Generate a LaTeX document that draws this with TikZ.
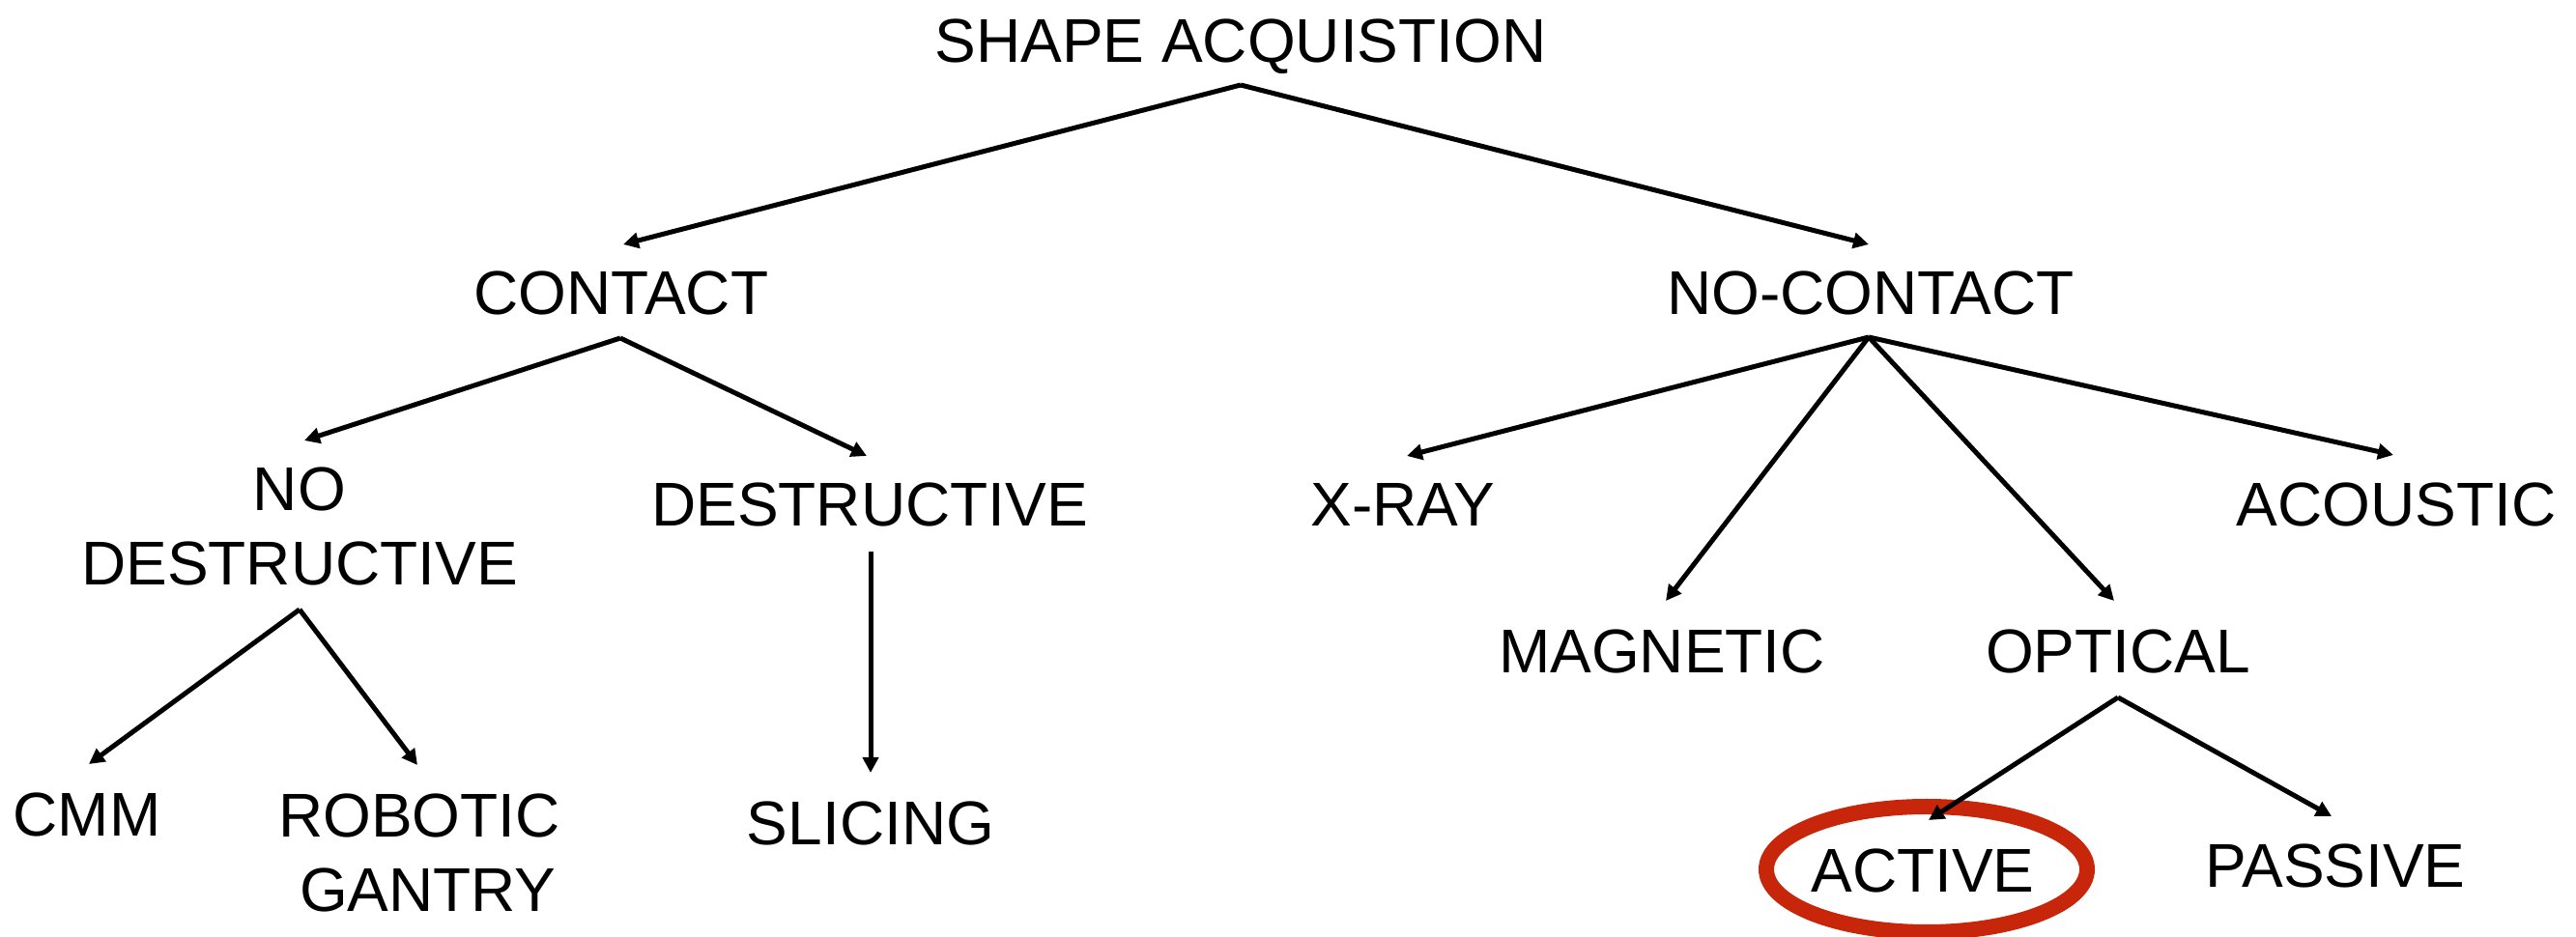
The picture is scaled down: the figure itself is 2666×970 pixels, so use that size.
\documentclass[tikz,border=0pt]{standalone}
\usepackage{fontspec}
\setmainfont{Liberation Sans}
\usetikzlibrary{arrows.meta}
\definecolor{hlred}{RGB}{200,38,10}
\tikzset{
  lbl/.style={anchor=base, inner sep=0pt, align=center, font=\fontsize{16}{19.3}\selectfont},
  arr/.style={draw=black, line width=1.25pt, -{Triangle[length=4pt,width=4pt]}},
  hl/.style={draw=hlred, line width=4pt}
}
\begin{document}
\begin{tikzpicture}[x=0.25pt,y=-0.25pt]
\useasboundingbox (0,0) rectangle (2666,970);
% labels
\node[lbl] (root) at (1284,65) {SHAPE ACQUISTION};
\node[lbl] (contact) at (643,326) {CONTACT};
\node[lbl] (nocontact) at (1936,326) {NO-CONTACT};
\node[lbl] (nodestr) at (310,606) {NO\\DESTRUCTIVE};
\node[lbl] (destr) at (900,545) {DESTRUCTIVE};
\node[lbl] (xray) at (1452,545) {X-RAY};
\node[lbl] (acoustic) at (2480,545) {ACOUSTIC};
\node[lbl] (magnetic) at (1720,697) {MAGNETIC};
\node[lbl] (optical) at (2192,697) {OPTICAL};
\node[lbl] (cmm) at (90,866) {CMM};
\node[lbl] (robotic) at (434,944) {ROBOTIC\\\mbox{ }GANTRY};
\node[lbl] (slicing) at (901,875) {SLICING};
\node[lbl] (active) at (1990,924) {ACTIVE};
\node[lbl] (passive) at (2417,919) {PASSIVE};
% highlight ring around ACTIVE
\coordinate (ringC) at (1994,900);
\draw[hl] (ringC) ellipse [x radius=166, y radius=65];
% connector end points
\coordinate (rootA) at (1284,88);
\coordinate (contactT) at (645,253);
\coordinate (nocontactT) at (1934,253);
\coordinate (contactA) at (642,350);
\coordinate (nodestrT) at (315,456);
\coordinate (destrT) at (897,472);
\coordinate (nodestrA) at (310,631);
\coordinate (cmmT) at (92,791);
\coordinate (roboticT) at (432,792);
\coordinate (destrA) at (901,571);
\coordinate (slicingT) at (901,800);
\coordinate (nocontactA) at (1934,349);
\coordinate (xrayT) at (1456,472);
\coordinate (magneticT) at (1724,622);
\coordinate (opticalT) at (2188,622);
\coordinate (acousticT) at (2477,471);
\coordinate (opticalA) at (2192,722);
\coordinate (activeT) at (1996,849);
\coordinate (passiveT) at (2413,845);
% connectors
\draw[arr] (rootA) -- (contactT);
\draw[arr] (rootA) -- (nocontactT);
\draw[arr] (contactA) -- (nodestrT);
\draw[arr] (contactA) -- (destrT);
\draw[arr] (nodestrA) -- (cmmT);
\draw[arr] (nodestrA) -- (roboticT);
\draw[arr] (destrA) -- (slicingT);
\draw[arr] (nocontactA) -- (xrayT);
\draw[arr] (nocontactA) -- (magneticT);
\draw[arr] (nocontactA) -- (opticalT);
\draw[arr] (nocontactA) -- (acousticT);
\draw[arr] (opticalA) -- (activeT);
\draw[arr] (opticalA) -- (passiveT);
\end{tikzpicture}
\end{document}
